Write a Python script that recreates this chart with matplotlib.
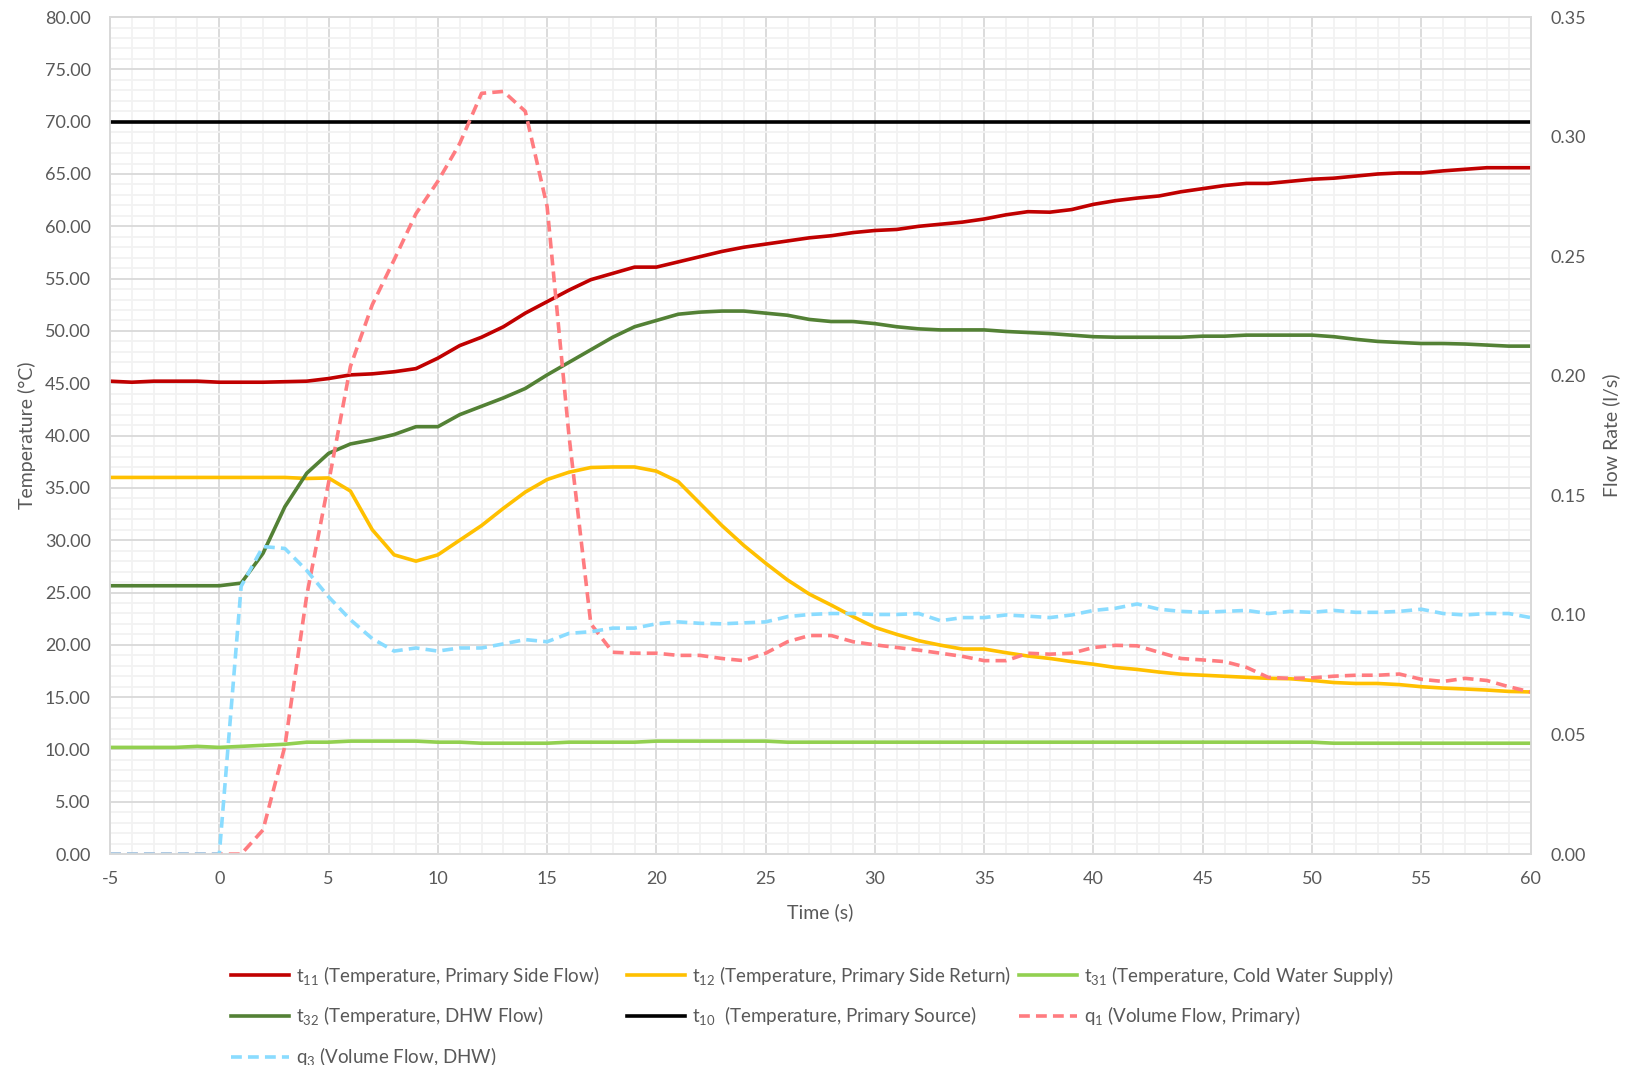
import matplotlib
matplotlib.use("Agg")
import matplotlib.pyplot as plt
from matplotlib.ticker import MultipleLocator, FormatStrFormatter

plt.rcParams['font.family'] = ['Lato', 'DejaVu Sans']
plt.rcParams['mathtext.fontset'] = 'custom'
plt.rcParams['mathtext.rm'] = 'Lato'
plt.rcParams['axes.unicode_minus'] = False

# ---- data ----
time_s = list(range(-5, 61))

t11 = [45.2, 45.1, 45.2, 45.2, 45.2, 45.1, 45.1, 45.1, 45.15, 45.2,
       45.45, 45.8, 45.9, 46.1, 46.4, 47.4, 48.6, 49.4, 50.4, 51.7,
       52.8, 53.9, 54.9, 55.5, 56.1, 56.1, 56.6, 57.1, 57.6, 58.0,
       58.3, 58.6, 58.9, 59.1, 59.4, 59.6, 59.7, 60.0, 60.2, 60.4,
       60.7, 61.1, 61.4, 61.35, 61.6, 62.1, 62.45, 62.7, 62.9, 63.3,
       63.6, 63.9, 64.1, 64.1, 64.3, 64.5, 64.6, 64.8, 65.0, 65.1,
       65.1, 65.3, 65.45, 65.6, 65.6, 65.6]

t12 = [36.0, 36.0, 36.0, 36.0, 36.0, 36.0, 36.0, 36.0, 36.0, 35.9,
       35.95, 34.7, 31.0, 28.6, 28.0, 28.6, 30.0, 31.4, 33.05, 34.6,
       35.8, 36.5, 36.95, 37.0, 37.0, 36.6, 35.6, 33.5, 31.4, 29.5,
       27.8, 26.2, 24.85, 23.8, 22.7, 21.67, 21.0, 20.4, 19.97, 19.6,
       19.6, 19.25, 18.93, 18.7, 18.4, 18.15, 17.84, 17.65, 17.4, 17.2,
       17.1, 17.0, 16.9, 16.8, 16.76, 16.6, 16.4, 16.31, 16.31, 16.2,
       16.0, 15.87, 15.78, 15.68, 15.55, 15.5]

t31 = [10.2, 10.2, 10.2, 10.2, 10.3, 10.2, 10.3, 10.4, 10.5, 10.7,
       10.7, 10.8, 10.8, 10.8, 10.8, 10.7, 10.7, 10.6, 10.6, 10.6,
       10.6, 10.7, 10.7, 10.7, 10.7, 10.8, 10.8, 10.8, 10.8, 10.8,
       10.8, 10.7, 10.7, 10.7, 10.7, 10.7, 10.7, 10.7, 10.7, 10.7,
       10.7, 10.7, 10.7, 10.7, 10.7, 10.7, 10.7, 10.7, 10.7, 10.7,
       10.7, 10.7, 10.7, 10.7, 10.7, 10.7, 10.6, 10.6, 10.6, 10.6,
       10.6, 10.6, 10.6, 10.6, 10.6, 10.6]

t32 = [25.65, 25.65, 25.65, 25.65, 25.65, 25.65, 25.9, 28.75, 33.2, 36.4,
       38.3, 39.2, 39.6, 40.1, 40.85, 40.85, 42.0, 42.8, 43.6, 44.5,
       45.8, 47.0, 48.2, 49.4, 50.4, 51.0, 51.6, 51.8, 51.9, 51.9,
       51.7, 51.5, 51.1, 50.9, 50.9, 50.7, 50.4, 50.2, 50.1, 50.1,
       50.1, 49.95, 49.85, 49.75, 49.6, 49.45, 49.4, 49.4, 49.4, 49.4,
       49.5, 49.5, 49.6, 49.6, 49.6, 49.6, 49.45, 49.2, 49.0, 48.9,
       48.8, 48.8, 48.75, 48.65, 48.55, 48.55]

t10 = [70.0] * 66

q1 = [0.0, 0.0, 0.0, 0.0, 0.0, 0.0, 0.0, 0.0101, 0.0451, 0.1081,
      0.1553, 0.2039, 0.2297, 0.2485, 0.2678, 0.2813, 0.2971, 0.3181, 0.3189, 0.3106,
      0.2708, 0.1750, 0.0963, 0.0844, 0.0840, 0.0840, 0.0831, 0.0831, 0.0818, 0.0809,
      0.0840, 0.0888, 0.0914, 0.0914, 0.0888, 0.0875, 0.0864, 0.0853, 0.0840, 0.0827,
      0.0809, 0.0809, 0.0840, 0.0836, 0.0840, 0.0864, 0.0873, 0.0871, 0.0844, 0.0818,
      0.0812, 0.0805, 0.0781, 0.0739, 0.0735, 0.0737, 0.0744, 0.0748, 0.0748, 0.0753,
      0.0731, 0.0722, 0.0735, 0.0726, 0.0700, 0.0678]

q3 = [0.0, 0.0, 0.0, 0.0, 0.0, 0.0, 0.1120, 0.1286, 0.1278, 0.1186,
      0.1076, 0.0980, 0.0901, 0.0849, 0.0862, 0.0849, 0.0862, 0.0862, 0.0879, 0.0897,
      0.0888, 0.0923, 0.0930, 0.0945, 0.0945, 0.0963, 0.0971, 0.0965, 0.0963, 0.0967,
      0.0971, 0.0993, 0.1002, 0.1006, 0.1006, 0.1002, 0.1002, 0.1006, 0.0976, 0.0989,
      0.0989, 0.1000, 0.0995, 0.0989, 0.1000, 0.1019, 0.1028, 0.1046, 0.1024, 0.1015,
      0.1011, 0.1015, 0.1019, 0.1006, 0.1015, 0.1011, 0.1019, 0.1011, 0.1011, 0.1015,
      0.1024, 0.1006, 0.1000, 0.1006, 0.1006, 0.0989]

labels = {
    't11': 't$\\mathregular{_{11}}$ (Temperature, Primary Side Flow)',
    't12': 't$\\mathregular{_{12}}$ (Temperature, Primary Side Return)',
    't31': 't$\\mathregular{_{31}}$ (Temperature, Cold Water Supply)',
    't32': 't$\\mathregular{_{32}}$ (Temperature, DHW Flow)',
    't10': 't$\\mathregular{_{10}}$  (Temperature, Primary Source)',
    'q1': 'q$\\mathregular{_{1}}$ (Volume Flow, Primary)',
    'q3': 'q$\\mathregular{_{3}}$ (Volume Flow, DHW)',
}

# ---- figure ----
TXT = '#595959'
fig = plt.figure(figsize=(16.3, 10.65), dpi=100)
ax = fig.add_axes([0.0675, 0.198, 0.8715, 0.786])
ax2 = ax.twinx()

lw = 2.6
l_t11, = ax.plot(time_s, t11, color='#C00000', lw=lw, label=labels['t11'], zorder=5)
l_t12, = ax.plot(time_s, t12, color='#FFC000', lw=lw, label=labels['t12'], zorder=5)
l_t31, = ax.plot(time_s, t31, color='#92D050', lw=lw, label=labels['t31'], zorder=5)
l_t32, = ax.plot(time_s, t32, color='#538135', lw=lw, label=labels['t32'], zorder=5)
l_t10, = ax.plot(time_s, t10, color='#000000', lw=lw, label=labels['t10'], zorder=5)
l_q1, = ax2.plot(time_s, q1, color='#FF7C80', lw=lw, ls=(0, (3, 1.7)), label=labels['q1'])
l_q3, = ax2.plot(time_s, q3, color='#8ADCFF', lw=lw, ls=(0, (3, 1.7)), label=labels['q3'])

ax.set_xlim(-5, 60)
ax.set_ylim(0, 80)
ax2.set_ylim(0, 0.35)

ax.xaxis.set_major_locator(MultipleLocator(5))
ax.xaxis.set_minor_locator(MultipleLocator(1))
ax.yaxis.set_major_locator(MultipleLocator(5))
ax.yaxis.set_minor_locator(MultipleLocator(1))
ax.yaxis.set_major_formatter(FormatStrFormatter('%.2f'))
ax2.yaxis.set_major_locator(MultipleLocator(0.05))
ax2.yaxis.set_major_formatter(FormatStrFormatter('%.2f'))

ax.grid(which='minor', color='#F2F2F2', lw=1.3, zorder=0)
ax.grid(which='major', color='#D9D9D9', lw=1.3, zorder=1)
ax.set_axisbelow(True)

for a in (ax, ax2):
    for s in a.spines.values():
        s.set_color('#D9D9D9')
        s.set_linewidth(1.3)
    a.tick_params(which='both', length=0, labelsize=13, labelcolor=TXT)
ax.tick_params(axis='x', pad=12)
ax.tick_params(axis='y', pad=14)
ax2.tick_params(axis='y', pad=14)

ax.set_xlabel('Time (s)', fontsize=14, color=TXT, labelpad=12)
ax.set_ylabel('Temperature (°C)', fontsize=14, color=TXT, labelpad=6)
ax2.set_ylabel('Flow Rate (l/s)', fontsize=14, color=TXT, rotation=90, labelpad=12)

# legend: three columns placed like the reference grid
columns = [([l_t11, l_t32, l_q3], 231), ([l_t12, l_t10], 627), ([l_t31, l_q1], 1019)]
for hs, xpx in columns:
    lg = fig.legend(handles=hs, labels=[h.get_label() for h in hs],
                    loc='upper left', bbox_to_anchor=(xpx / 1630, 0.0952),
                    frameon=False, fontsize=13.5, handlelength=3.1,
                    handletextpad=0.35, labelspacing=0.95,
                    borderpad=0, borderaxespad=0)
    for t in lg.get_texts():
        t.set_color(TXT)

fig.savefig('out.png', dpi=100)
